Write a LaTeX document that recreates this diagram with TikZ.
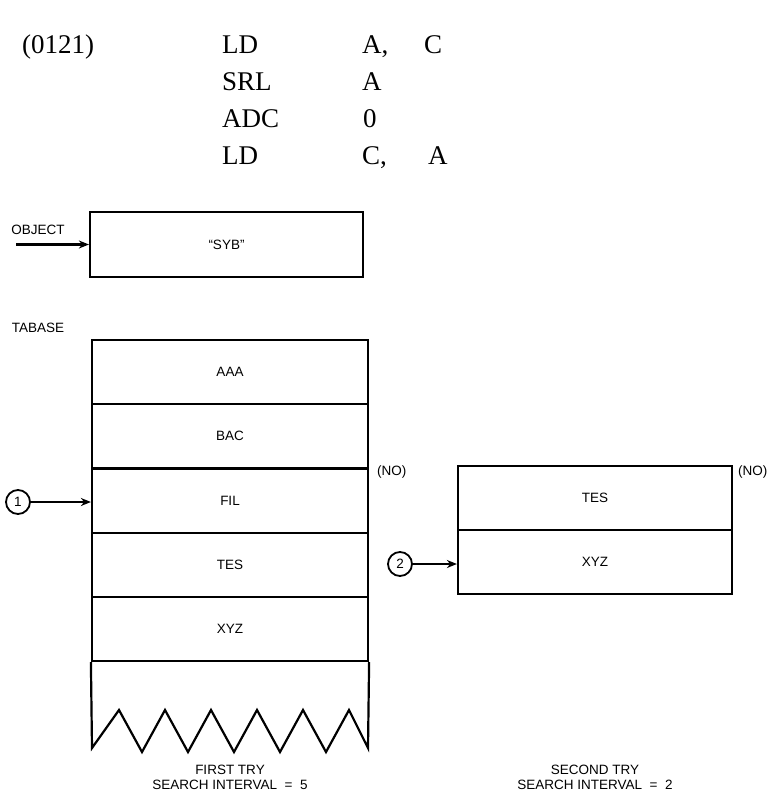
\documentclass[tikz,border=0pt]{standalone}
\usepackage{fontspec}
\setmainfont{Liberation Serif}
\newfontfamily\lblfont{Liberation Sans}
\usetikzlibrary{positioning,arrows.meta}

\begin{document}
\begin{tikzpicture}[
  x=1pt,y=-1pt,
  >={Stealth[length=10pt,width=8pt]},
  code/.style={anchor=base west,inner sep=0pt,font=\fontsize{27}{32}\selectfont},
  cell/.style={rectangle,draw,line width=2.2pt,minimum width=276pt,minimum height=64.2pt,inner sep=0pt,font=\lblfont\fontsize{13.5}{16}\selectfont},
  lbl/.style={inner sep=0pt,font=\lblfont\fontsize{13.5}{15}\selectfont},
  num/.style={circle,draw,line width=1.8pt,minimum size=24pt,inner sep=0pt,font=\lblfont\fontsize{13.5}{16}\selectfont},
  ptr/.style={->,line width=2.2pt}
]
\useasboundingbox (0,0) rectangle (774,794);
% code listing
\node[code] (addr) at (22,54) {(0121)};
\node[code] (op1) at (222,54) {LD};
\node[code] (x1) at (362,54) {A,};
\node[code] (y1) at (424,54) {C};
\node[code] (op2) at (222,91) {SRL};
\node[code] (x2) at (362,91) {A};
\node[code] (op3) at (222,128) {ADC};
\node[code] (x3) at (363,128) {0};
\node[code] (op4) at (222,165) {LD};
\node[code] (x4) at (362,165) {C,};
\node[code] (y4) at (428,165) {A};
% object
\node[cell,minimum width=273pt,minimum height=65pt] (obj) at (226.5,244.5) {“SYB”};
\node[lbl] (objlbl) at (38,230) {OBJECT};
\coordinate (objin) at (16,244.5);
\draw[ptr] (objin) -- (obj.west);
% table, first try
\node[lbl] (tabase) at (38,328) {TABASE};
\node[cell] (t1) at (230,372.1) {AAA};
\node[cell] (t2) at (230,436.3) {BAC};
\node[cell] (t3) at (230,500.5) {FIL};
\node[cell] (t4) at (230,564.7) {TES};
\node[cell] (t5) at (230,628.9) {XYZ};
\draw[line width=2.2pt,line join=miter] (t5.south west) -- (92,748)
  -- (119,710) -- (142,752) -- (165,710) -- (188,752) -- (211,710)
  -- (234,752) -- (257,710) -- (280,752) -- (303,710) -- (326,752)
  -- (349,710) -- (368,748) -- (t5.south east);
\node[lbl,anchor=west] (no1) at (377,472) {(NO)};
\node[num] (c1) at (18,502) {1};
\draw[ptr] (c1) -- (c1 -| t3.west);
% second try
\node[cell,minimum width=274pt,minimum height=64pt] (s1) at (595,498) {TES};
\node[cell,minimum width=274pt,minimum height=64pt] (s2) at (595,562) {XYZ};
\node[lbl,anchor=west] (no2) at (738,472) {(NO)};
\node[num] (c2) at (400,564) {2};
\draw[ptr] (c2) -- (c2 -| s2.west);
% captions
\node[lbl,align=center] (cap1) at (230,777) {FIRST TRY\\SEARCH INTERVAL \ = \ 5};
\node[lbl,align=center] (cap2) at (595,777) {SECOND TRY\\SEARCH INTERVAL \ = \ 2};
\end{tikzpicture}
\end{document}
